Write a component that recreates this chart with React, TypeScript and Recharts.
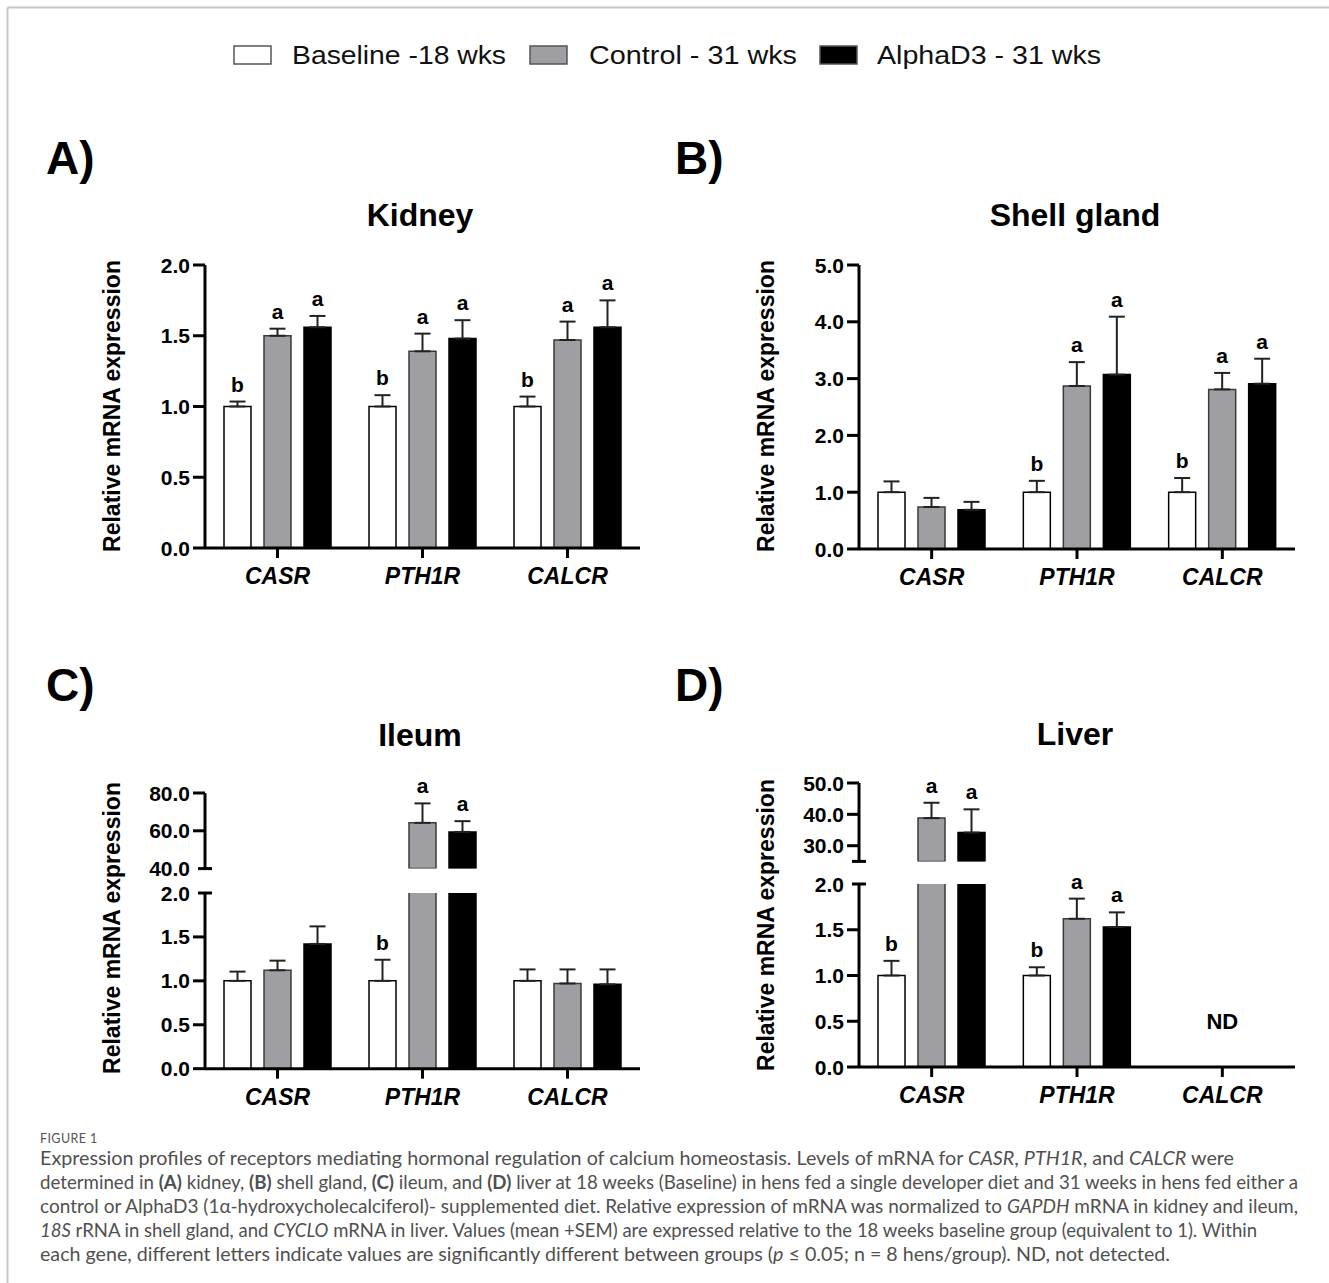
import React from 'react';
import { BarChart, Bar, XAxis, YAxis, ErrorBar, LabelList, ReferenceDot } from 'recharts';

const genes = ['CASR', 'PTH1R', 'CALCR'];
const seriesLabels = ['Baseline -18 wks', 'Control - 31 wks', 'AlphaD3 - 31 wks'];

// A) Kidney
const kidneyBaseline = [1.0, 1.0, 1.0];
const kidneyControl = [1.5, 1.39, 1.47];
const kidneyAlpha = [1.56, 1.48, 1.56];
const kidneyBaselineSem = [0.035, 0.08, 0.07];
const kidneyControlSem = [0.05, 0.125, 0.13];
const kidneyAlphaSem = [0.08, 0.13, 0.19];
const kidneyBaselineSig = ['b', 'b', 'b'];
const kidneyControlSig = ['a', 'a', 'a'];
const kidneyAlphaSig = ['a', 'a', 'a'];

// B) Shell gland
const shellBaseline = [1.0, 1.0, 1.0];
const shellControl = [0.74, 2.87, 2.81];
const shellAlpha = [0.69, 3.07, 2.91];
const shellBaselineSem = [0.19, 0.2, 0.25];
const shellControlSem = [0.16, 0.42, 0.29];
const shellAlphaSem = [0.14, 1.02, 0.44];
const shellBaselineSig = ['', 'b', 'b'];
const shellControlSig = ['', 'a', 'a'];
const shellAlphaSig = ['', 'a', 'a'];

// C) Ileum
const ileumBaseline = [1.0, 1.0, 1.0];
const ileumControl = [1.12, 64.2, 0.97];
const ileumAlpha = [1.42, 59.4, 0.96];
const ileumBaselineSem = [0.105, 0.24, 0.13];
const ileumControlSem = [0.11, 10.3, 0.16];
const ileumAlphaSem = [0.2, 5.7, 0.17];
const ileumBaselineSig = ['', 'b', ''];
const ileumControlSig = ['', 'a', ''];
const ileumAlphaSig = ['', 'a', ''];

// D) Liver (CALCR not detected)
const liverBaseline = [1.0, 1.0, null];
const liverControl = [38.8, 1.62, null];
const liverAlpha = [34.2, 1.53, null];
const liverBaselineSem = [0.16, 0.09, null];
const liverControlSem = [4.9, 0.22, null];
const liverAlphaSem = [7.4, 0.16, null];
const liverBaselineSig = ['b', 'b', ''];
const liverControlSig = ['a', 'a', ''];
const liverAlphaSig = ['a', 'a', ''];

const FONT = '"Liberation Sans", Arial, Helvetica, sans-serif';
const CAPTION_FONT = "Lato, 'Noto Sans', sans-serif";
const KEYS = ['baseline', 'control', 'alpha'];
const FILLS = ['#ffffff', '#9f9fa3', '#000000'];
const STROKES = ['#000000', '#3a3a3a', '#000000'];

const YW = 80;
const MT = 45;
const MR = 10;
const XH = 50;
const TICK = 12;
const TICK_MARGIN = 3;

// rows for one axis segment: lo/hi are the segment bounds (lo > 0 means upper part of a broken axis)
function buildRows(means: any[][], sems: any[][], sigs: string[][], lo: number, hi: number) {
  return genes.map((gene, i) => {
    const row: any = { gene };
    KEYS.forEach((k, s) => {
      const m = means[s][i];
      const inSeg = m != null && m > lo;
      const topHere = inSeg && m <= hi;
      row[k] = lo > 0 ? (inSeg ? m : null) : m;
      row[k + 'Err'] = topHere ? [0, sems[s][i]] : null;
      row[k + 'Sig'] = topHere && sigs[s][i] ? { letter: sigs[s][i], mean: m, sem: sems[s][i] } : null;
    });
    return row;
  });
}

// letter sits above the error bar; px per unit taken from the bar rectangle itself
const makeSig = (base: number) => (props: any) => {
  const { value } = props;
  if (!value || !value.letter) return null;
  const vb = props.viewBox || props;
  const h = Math.abs(vb.height);
  const top = Math.min(vb.y, vb.y + vb.height);
  const px = h / (value.mean - base);
  return (
    <text x={vb.x + vb.width / 2} y={top - value.sem * px - 10} textAnchor="middle"
      fontSize={21} fontWeight={700} fontFamily={FONT} fill="#000">
      {value.letter}
    </text>
  );
};

const YTick = (props: any) => {
  const { x, y, payload, breakTick, hideLabel } = props;
  const v = payload.value;
  const axisX = x + TICK + TICK_MARGIN;
  const isBreak = breakTick != null && Math.abs(v - breakTick) < 1e-9;
  return (
    <g>
      <line x1={isBreak ? axisX - 7 : axisX - TICK} x2={isBreak ? axisX + 7 : axisX} y1={y} y2={y}
        stroke="#000" strokeWidth={3} />
      {v !== hideLabel && (
        <text x={x} y={y} dy="0.36em" textAnchor="end" fontSize={21} fontWeight={700}
          fontFamily={FONT} fill="#000">
          {v.toFixed(1)}
        </text>
      )}
    </g>
  );
};

const NDLabel = (props: any) => {
  const vb = props.viewBox || {};
  return (
    <text x={vb.x} y={vb.y} dy="0.36em" textAnchor="middle" fontSize={22} fontWeight={700}
      fontFamily={FONT} fill="#000">ND</text>
  );
};

interface PanelProps {
  rows: any[];
  plot: [number, number, number, number]; // left, right, top, bottom in page px
  domain: [number, number];
  ticks: number[];
  breakTick?: number;
  hideLabel?: number;
  showX: boolean;
  nd?: boolean;
}

function Panel({ rows, plot, domain, ticks, breakTick, hideLabel, showX, nd }: PanelProps) {
  const [l, r, t, b] = plot;
  const mb = showX ? 0 : 14;
  const width = YW + (r - l) + MR;
  const height = MT + (b - t) + (showX ? XH : mb);
  return (
    <div style={{ position: 'absolute', left: l - YW, top: t - MT }}>
      <BarChart width={width} height={height} data={rows} barSize={27} barGap={13}
        margin={{ top: MT, right: MR, left: 0, bottom: mb }}>
        <XAxis dataKey="gene" hide={!showX} height={XH} interval={0}
          axisLine={{ stroke: '#000', strokeWidth: 3 }}
          tickLine={{ stroke: '#000', strokeWidth: 3 }} tickSize={10} tickMargin={10}
          tick={{ fontSize: 23, fontWeight: 700, fontStyle: 'italic', fill: '#000', fontFamily: FONT }} />
        <YAxis type="number" domain={domain} ticks={ticks} allowDataOverflow width={YW} interval={0}
          axisLine={{ stroke: '#000', strokeWidth: 3 }} tickLine={false} tickSize={TICK} tickMargin={TICK_MARGIN}
          tick={(p: any) => <YTick {...p} breakTick={breakTick} hideLabel={hideLabel} />} />
        {KEYS.map((k, s) => (
          <Bar key={k} dataKey={k} name={seriesLabels[s]} fill={FILLS[s]} stroke={STROKES[s]}
            strokeWidth={1.5} isAnimationActive={false}>
            <ErrorBar dataKey={k + 'Err'} direction="y" width={8} stroke="#222" strokeWidth={2} />
            <LabelList dataKey={k + 'Sig'} content={makeSig(domain[0])} />
          </Bar>
        ))}
        {nd && <ReferenceDot x="CALCR" y={0.5} r={0} fill="none" stroke="none" label={<NDLabel />} />}
      </BarChart>
    </div>
  );
}

const captionLines: [string, string][][] = [
  [['Expression profiles of receptors mediating hormonal regulation of calcium homeostasis. Levels of mRNA for ', ''], ['CASR', 'i'], [', ', ''], ['PTH1R', 'i'], [', and ', ''], ['CALCR', 'i'], [' were', '']],
  [['determined in ', ''], ['(A)', 'b'], [' kidney, ', ''], ['(B)', 'b'], [' shell gland, ', ''], ['(C)', 'b'], [' ileum, and ', ''], ['(D)', 'b'], [' liver at 18 weeks (Baseline) in hens fed a single developer diet and 31 weeks in hens fed either a', '']],
  [['control or AlphaD3 (1\u03b1-hydroxycholecalciferol)- supplemented diet. Relative expression of mRNA was normalized to ', ''], ['GAPDH', 'i'], [' mRNA in kidney and ileum,', '']],
  [['18S', 'i'], [' rRNA in shell gland, and ', ''], ['CYCLO', 'i'], [' mRNA in liver. Values (mean +SEM) are expressed relative to the 18 weeks baseline group (equivalent to 1). Within', '']],
  [['each gene, different letters indicate values are significantly different between groups (', ''], ['p', 'i'], [' \u2264 0.05; n = 8 hens/group). ND, not detected.', '']],
];
const captionEnds = [1234, 1298, 1298, 1257, 1170];

export default function App() {
  const kidneyRows = buildRows([kidneyBaseline, kidneyControl, kidneyAlpha],
    [kidneyBaselineSem, kidneyControlSem, kidneyAlphaSem], [kidneyBaselineSig, kidneyControlSig, kidneyAlphaSig], 0, 2);
  const shellRows = buildRows([shellBaseline, shellControl, shellAlpha],
    [shellBaselineSem, shellControlSem, shellAlphaSem], [shellBaselineSig, shellControlSig, shellAlphaSig], 0, 5);
  const ileumM = [ileumBaseline, ileumControl, ileumAlpha];
  const ileumS = [ileumBaselineSem, ileumControlSem, ileumAlphaSem];
  const ileumL = [ileumBaselineSig, ileumControlSig, ileumAlphaSig];
  const liverM = [liverBaseline, liverControl, liverAlpha];
  const liverS = [liverBaselineSem, liverControlSem, liverAlphaSem];
  const liverL = [liverBaselineSig, liverControlSig, liverAlphaSig];

  return (
    <div style={{ position: 'absolute', left: 0, top: 0, width: 1329, height: 1283, background: '#fff', overflow: 'hidden' }}>
      <svg width={1329} height={1283} style={{ position: 'absolute', left: 0, top: 0 }}>
        <line x1={7.5} y1={7.5} x2={1329} y2={7.5} stroke="#c8c8c8" strokeWidth={2} />
        <line x1={7.5} y1={7.5} x2={7.5} y2={1283} stroke="#c8c8c8" strokeWidth={2} />

        {/* legend */}
        {seriesLabels.map((lab, s) => {
          const bx = [234, 530, 820][s];
          const tx = [292, 589, 877][s];
          const tl = [214, 208, 224][s];
          return (
            <g key={lab}>
              <rect x={bx} y={46} width={37} height={18} fill={FILLS[s]} stroke="#555" strokeWidth={1.5} />
              <text x={tx} y={64} fontSize={25} fontFamily={FONT} fill="#111" textLength={tl}
                lengthAdjust="spacingAndGlyphs">{lab}</text>
            </g>
          );
        })}

        {/* panel letters and titles */}
        <g fontFamily={FONT} fontWeight={700} fill="#000">
          <text x={46} y={174} fontSize={46}>A)</text>
          <text x={675} y={174} fontSize={46}>B)</text>
          <text x={46} y={701} fontSize={46}>C)</text>
          <text x={675} y={701} fontSize={46}>D)</text>
          <text x={420} y={226} fontSize={32} textAnchor="middle">Kidney</text>
          <text x={1075} y={226} fontSize={32} textAnchor="middle">Shell gland</text>
          <text x={420} y={746} fontSize={32} textAnchor="middle">Ileum</text>
          <text x={1075} y={745} fontSize={32} textAnchor="middle">Liver</text>
          {[[112, 406], [766, 406], [112, 928], [766, 925]].map(([cx, cy]) => (
            <text key={`${cx}-${cy}`} x={cx} y={cy} fontSize={23} textAnchor="middle" dominantBaseline="central"
              transform={`rotate(-90 ${cx} ${cy})`}>Relative mRNA expression</text>
          ))}
        </g>

        {/* caption */}
        <text x={40} y={1143} fontSize={12.5} fontFamily={CAPTION_FONT} fill="#555"
          letterSpacing={0.4}>FIGURE 1</text>
        {captionLines.map((segs, i) => (
          <text key={i} x={40} y={1165 + i * 24} fontSize={19} fontFamily={CAPTION_FONT}
            fill="#505050" textLength={captionEnds[i] - 40} lengthAdjust="spacingAndGlyphs" style={{ whiteSpace: 'pre' }}>
            {segs.map(([txt, st], j) => (
              <tspan key={j} fontStyle={st === 'i' ? 'italic' : 'normal'} fontWeight={st === 'b' ? 700 : 400}>{txt}</tspan>
            ))}
          </text>
        ))}
      </svg>

      <Panel rows={kidneyRows} plot={[205, 640, 265, 548]} domain={[0, 2]} ticks={[0, 0.5, 1, 1.5, 2]} showX />
      <Panel rows={shellRows} plot={[859, 1295, 265, 549]} domain={[0, 5]} ticks={[0, 1, 2, 3, 4, 5]} showX />

      <Panel rows={buildRows(ileumM, ileumS, ileumL, 40, 80)} plot={[205, 640, 792.7, 868.3]}
        domain={[40, 80]} ticks={[40, 60, 80]} breakTick={40} showX={false} />
      <Panel rows={buildRows(ileumM, ileumS, ileumL, 0, 2)} plot={[205, 640, 893.3, 1069]}
        domain={[0, 2]} ticks={[0, 0.5, 1, 1.5, 2]} breakTick={2} showX />

      <Panel rows={buildRows(liverM, liverS, liverL, 25, 50)} plot={[859, 1295, 783.3, 861.7]}
        domain={[25, 50]} ticks={[25, 30, 40, 50]} breakTick={25} hideLabel={25} showX={false} />
      <Panel rows={buildRows(liverM, liverS, liverL, 0, 2)} plot={[859, 1295, 884, 1067]}
        domain={[0, 2]} ticks={[0, 0.5, 1, 1.5, 2]} breakTick={2} showX nd />
    </div>
  );
}
